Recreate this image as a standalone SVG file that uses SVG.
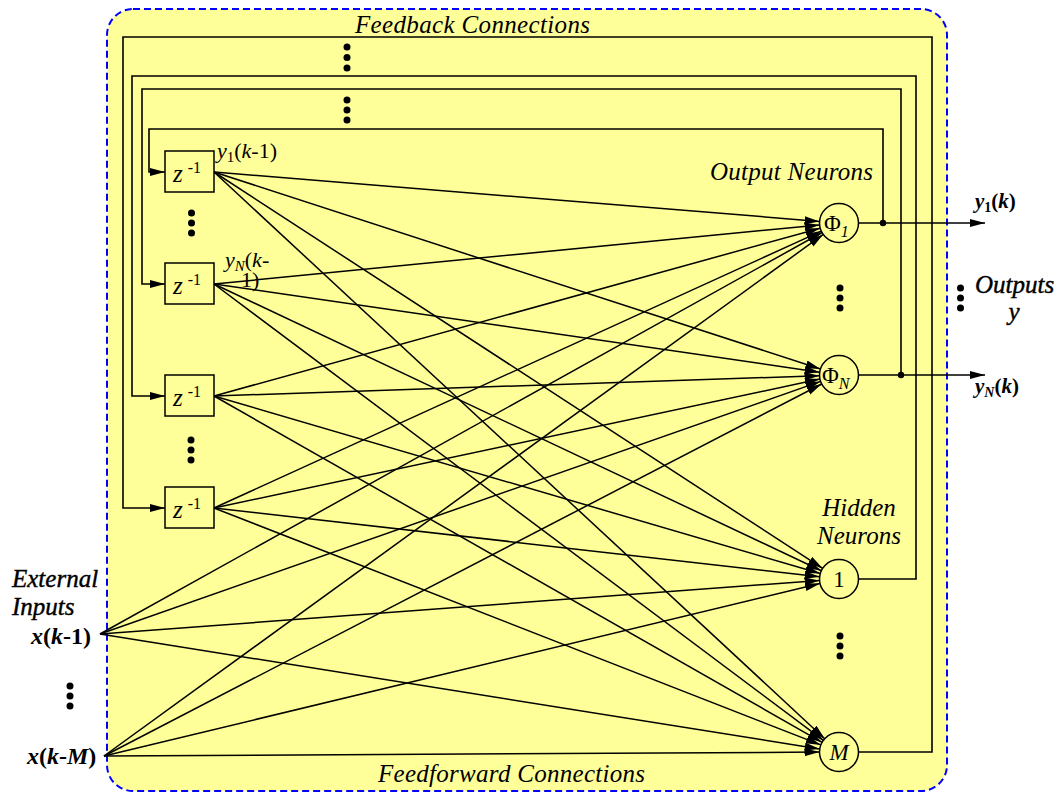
<svg xmlns="http://www.w3.org/2000/svg" width="1058" height="793" viewBox="0 0 1058 793">
  <defs>
    <marker id="arr" markerUnits="userSpaceOnUse" markerWidth="16" markerHeight="10" refX="15" refY="4" orient="auto">
      <path d="M0,0 L15,4 L0,8 z" fill="#000"/>
    </marker>
    <style>
      .lbl { font-family: "Liberation Serif", "Times New Roman", serif; fill: #000; }
      .it { font-style: italic; }
      .bd { font-weight: bold; }
      .wire { fill: none; stroke: #000; stroke-width: 1.6; }
      .ff { stroke: #000; stroke-width: 1.5; marker-end: url(#arr); }
      .box { fill: #FFFF99; stroke: #000; stroke-width: 1.5; }
      .neuron { fill: #FFFF99; stroke: #000; stroke-width: 1.5; }
      .dot { fill: #000; }
    </style>
  </defs>

  <!-- network boundary -->
  <g id="frame">
    <rect x="107" y="9" width="840" height="782" rx="26" ry="26" fill="#FFFF99" stroke="#0000FF" stroke-width="2" stroke-dasharray="7,4"/>
  </g>

  <!-- feedback wiring and output lines -->
  <g id="connectors">
    <polyline class="wire" points="859,223 883,223 883,129 149,129 149,172 165,172" marker-end="url(#arr)"/>
    <polyline class="wire" points="859,375 901,375 901,89 142,89 142,284 165,284" marker-end="url(#arr)"/>
    <polyline class="wire" points="859,579 916,579 916,76 132,76 132,396 165,396" marker-end="url(#arr)"/>
    <polyline class="wire" points="859,752 932,752 932,37 123,37 123,508 165,508" marker-end="url(#arr)"/>
    <line class="ff" x1="883" y1="223" x2="985" y2="223"/>
    <line class="ff" x1="901" y1="375" x2="985" y2="375"/>
    <circle class="dot" cx="883" cy="223" r="3.2"/>
    <circle class="dot" cx="901" cy="375" r="3.2"/>

    <!-- z1 -->
    <line class="ff" x1="214" y1="172" x2="819.6" y2="221.4"/>
    <line class="ff" x1="214" y1="172" x2="820.5" y2="369.0"/>
    <line class="ff" x1="214" y1="172" x2="822.7" y2="568.4"/>
    <line class="ff" x1="214" y1="172" x2="824.7" y2="738.7"/>
    <!-- z2 -->
    <line class="ff" x1="214" y1="284" x2="819.6" y2="224.9"/>
    <line class="ff" x1="214" y1="284" x2="819.7" y2="372.2"/>
    <line class="ff" x1="214" y1="284" x2="821.4" y2="570.7"/>
    <line class="ff" x1="214" y1="284" x2="823.4" y2="740.3"/>
    <!-- z3 -->
    <line class="ff" x1="214" y1="396" x2="820.2" y2="228.2"/>
    <line class="ff" x1="214" y1="396" x2="819.5" y2="375.7"/>
    <line class="ff" x1="214" y1="396" x2="820.3" y2="573.5"/>
    <line class="ff" x1="214" y1="396" x2="822.1" y2="742.3"/>
    <!-- z4 -->
    <line class="ff" x1="214" y1="508" x2="821.3" y2="231.1"/>
    <line class="ff" x1="214" y1="508" x2="819.9" y2="379.1"/>
    <line class="ff" x1="214" y1="508" x2="819.6" y2="576.8"/>
    <line class="ff" x1="214" y1="508" x2="820.8" y2="744.9"/>
    <!-- x(k-1) -->
    <line class="ff" x1="100" y1="634" x2="822.0" y2="232.5"/>
    <line class="ff" x1="100" y1="634" x2="820.6" y2="381.4"/>
    <line class="ff" x1="100" y1="634" x2="819.6" y2="580.4"/>
    <line class="ff" x1="100" y1="634" x2="819.7" y2="748.9"/>
    <!-- x(k-M) -->
    <line class="ff" x1="104" y1="756" x2="823.2" y2="234.4"/>
    <line class="ff" x1="104" y1="756" x2="821.7" y2="384.0"/>
    <line class="ff" x1="104" y1="756" x2="820.0" y2="583.6"/>
    <line class="ff" x1="104" y1="756" x2="819.5" y2="752.1"/>
  </g>

  <!-- unit delays -->
  <g id="delay1">
    <rect class="box" x="165" y="151" width="49" height="41"/>
    <text class="lbl" x="173" y="182" font-size="25"><tspan class="it">z</tspan><tspan font-size="16" dx="5" dy="-9">-1</tspan></text>
  </g>
  <g id="delay2">
    <rect class="box" x="165" y="263" width="49" height="41"/>
    <text class="lbl" x="173" y="294" font-size="25"><tspan class="it">z</tspan><tspan font-size="16" dx="5" dy="-9">-1</tspan></text>
  </g>
  <g id="delay3">
    <rect class="box" x="165" y="375" width="49" height="41"/>
    <text class="lbl" x="173" y="406" font-size="25"><tspan class="it">z</tspan><tspan font-size="16" dx="5" dy="-9">-1</tspan></text>
  </g>
  <g id="delay4">
    <rect class="box" x="165" y="487" width="49" height="41"/>
    <text class="lbl" x="173" y="518" font-size="25"><tspan class="it">z</tspan><tspan font-size="16" dx="5" dy="-9">-1</tspan></text>
  </g>

  <!-- neurons -->
  <g id="out1">
    <circle class="neuron" cx="839" cy="223" r="19.5"/>
    <text class="lbl" x="824" y="231" font-size="23">Φ<tspan class="it" font-size="16" dy="6">1</tspan></text>
  </g>
  <g id="outN">
    <circle class="neuron" cx="839" cy="375" r="19.5"/>
    <text class="lbl" x="822" y="383" font-size="23">Φ<tspan class="it" font-size="16" dy="6">N</tspan></text>
  </g>
  <g id="hidden1">
    <circle class="neuron" cx="839" cy="579" r="19.5"/>
    <text class="lbl" x="839" y="587" font-size="23" text-anchor="middle">1</text>
  </g>
  <g id="hiddenM">
    <circle class="neuron" cx="839" cy="752" r="19.5"/>
    <text class="lbl it" x="839" y="760" font-size="23" text-anchor="middle">M</text>
  </g>

  <!-- ellipsis dots -->
  <g id="ellipses">
    <circle class="dot" cx="347" cy="47" r="3.5"/><circle class="dot" cx="347" cy="57.5" r="3.5"/><circle class="dot" cx="347" cy="68" r="3.5"/>
    <circle class="dot" cx="347" cy="100" r="3.5"/><circle class="dot" cx="347" cy="110" r="3.5"/><circle class="dot" cx="347" cy="120" r="3.5"/>
    <circle class="dot" cx="191.5" cy="213" r="3.5"/><circle class="dot" cx="191.5" cy="223" r="3.5"/><circle class="dot" cx="191.5" cy="233" r="3.5"/>
    <circle class="dot" cx="191" cy="440" r="3.5"/><circle class="dot" cx="191" cy="450" r="3.5"/><circle class="dot" cx="191" cy="460" r="3.5"/>
    <circle class="dot" cx="840" cy="288" r="3.5"/><circle class="dot" cx="840" cy="298" r="3.5"/><circle class="dot" cx="840" cy="308" r="3.5"/>
    <circle class="dot" cx="960.5" cy="288" r="3.5"/><circle class="dot" cx="960.5" cy="298" r="3.5"/><circle class="dot" cx="960.5" cy="308" r="3.5"/>
    <circle class="dot" cx="840" cy="636" r="3.5"/><circle class="dot" cx="840" cy="646" r="3.5"/><circle class="dot" cx="840" cy="656" r="3.5"/>
    <circle class="dot" cx="70" cy="686" r="3.5"/><circle class="dot" cx="70" cy="696" r="3.5"/><circle class="dot" cx="70" cy="706" r="3.5"/>
  </g>

  <!-- captions and signal names -->
  <g id="labels">
    <text class="lbl it" x="355" y="33" font-size="25" textLength="235" lengthAdjust="spacing">Feedback Connections</text>
    <text class="lbl it" x="378" y="782" font-size="25" textLength="267" lengthAdjust="spacing">Feedforward Connections</text>
    <text class="lbl it" x="710" y="180" font-size="25" textLength="163" lengthAdjust="spacing">Output Neurons</text>
    <text class="lbl it" x="859" y="516" font-size="25" text-anchor="middle">Hidden</text>
    <text class="lbl it" x="859" y="544" font-size="25" text-anchor="middle">Neurons</text>
    <text class="lbl it" x="12" y="587" font-size="25" stroke="#000" stroke-width="0.4">External</text>
    <text class="lbl it" x="12" y="615" font-size="25" stroke="#000" stroke-width="0.4">Inputs</text>
    <text class="lbl bd" x="31" y="644" font-size="24"><tspan class="it">x</tspan>(<tspan class="it">k</tspan>-1)</text>
    <text class="lbl bd" x="27" y="764" font-size="24"><tspan class="it">x</tspan>(<tspan class="it">k</tspan>-<tspan class="it">M</tspan>)</text>
    <text class="lbl it" x="975" y="293" font-size="25" stroke="#000" stroke-width="0.4">Outputs</text>
    <text class="lbl it" x="1014" y="320" font-size="25" text-anchor="middle" stroke="#000" stroke-width="0.4">y</text>
    <text class="lbl bd" x="975" y="208" font-size="21"><tspan class="it">y</tspan><tspan font-size="14" dy="4">1</tspan><tspan dy="-4">(</tspan><tspan class="it">k</tspan>)</text>
    <text class="lbl bd" x="975" y="393" font-size="21"><tspan class="it">y</tspan><tspan class="it" font-size="14" dy="4">N</tspan><tspan dy="-4">(</tspan><tspan class="it">k</tspan>)</text>
    <text class="lbl" x="217" y="158" font-size="22"><tspan class="it">y</tspan><tspan font-size="15" dy="4">1</tspan><tspan dy="-4">(</tspan><tspan class="it">k</tspan>-1)</text>
    <text class="lbl" x="225" y="267" font-size="22"><tspan class="it">y</tspan><tspan class="it" font-size="15" dy="4">N</tspan><tspan dy="-4">(</tspan><tspan class="it">k</tspan>-</text>
    <text class="lbl" x="241" y="287" font-size="22">1)</text>
  </g>
</svg>
